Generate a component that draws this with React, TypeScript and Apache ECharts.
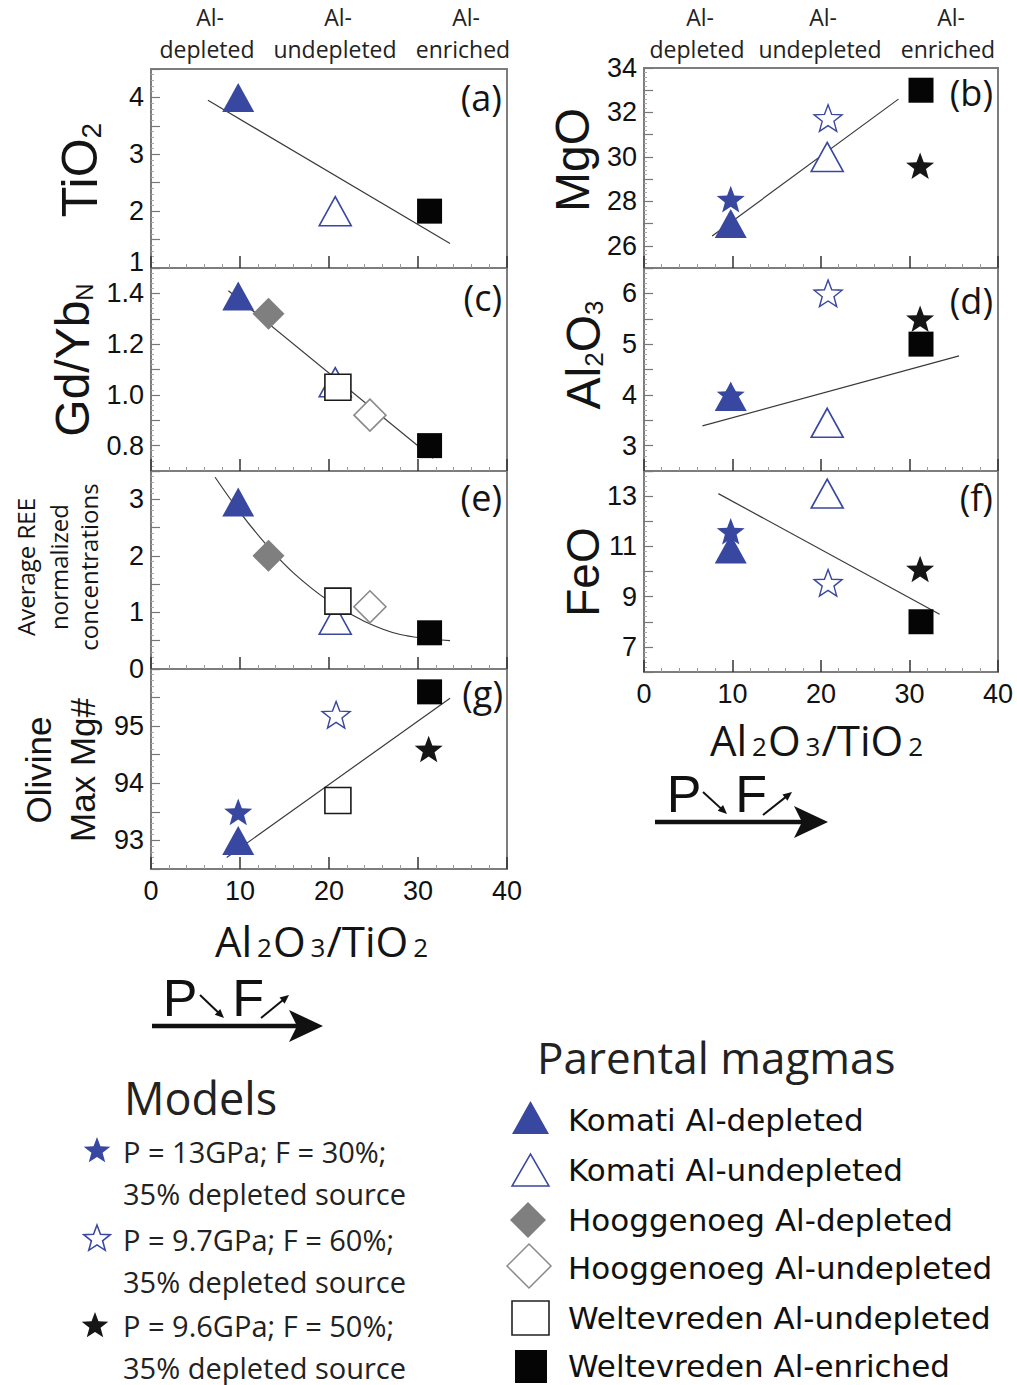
import React, { useEffect, useRef } from 'react';
import * as echarts from 'echarts';

// ---------------- data ----------------
const groupNames = [
  'Komati Al-depleted',
  'Komati Al-undepleted',
  'Hooggenoeg Al-depleted',
  'Hooggenoeg Al-undepleted',
  'Weltevreden Al-undepleted',
  'Weltevreden Al-enriched',
];
// Al2O3/TiO2 of each parental magma
const groupRatio = [9.8, 20.7, 13.2, 24.6, 21.0, 31.3];

const modelNames = ['P = 13GPa; F = 30%;', 'P = 9.7GPa; F = 60%;', 'P = 9.6GPa; F = 50%;'];
const modelSource = ['35% depleted source', '35% depleted source', '35% depleted source'];
const modelRatio = [9.8, 20.8, 31.2];

// (a) TiO2
const tio2Groups = [4.0, 2.0, null, null, null, 2.0];
const tio2Models = [null, null, null];
const tio2Fit = [[6.4, 3.95], [33.6, 1.43]];
// (b) MgO
const mgoGroups = [27.0, 30.0, null, null, null, 33.0];
const mgoModels = [28.1, 31.75, 29.6];
const mgoFit = [[7.7, 26.44], [28.75, 32.6]];
// (c) Gd/Yb N
const gdybGroups = [1.39, 1.05, 1.32, 0.92, 1.03, 0.8];
const gdybModels = [null, null, null];
const gdybFit = [[8.7, 1.41], [31.7, 0.75]];
// (d) Al2O3
const al2o3Groups = [3.97, 3.45, null, null, null, 5.0];
const al2o3Models = [4.0, 6.0, 5.5];
const al2o3Fit = [[6.6, 3.39], [35.6, 4.77]];
// (e) Average REE normalized concentrations
const reeGroups = [2.95, 0.87, 2.0, 1.1, 1.2, 0.64];
const reeModels = [null, null, null];
const reeFit = [[7.2, 3.39], [10, 2.77], [13, 2.19], [16, 1.7], [20, 1.2], [24, 0.84], [28, 0.61], [33.6, 0.5]];
// (f) FeO
const feoGroups = [10.9, 13.1, null, null, null, 8.0];
const feoModels = [11.6, 9.55, 10.1];
const feoFit = [[8.4, 13.1], [33.4, 8.3]];
// (g) Olivine max Mg#
const olivGroups = [93.0, null, null, null, 93.7, 95.6];
const olivModels = [93.5, 95.2, 94.6];
const olivFit = [[8.5, 92.7], [33.6, 95.49]];

const xTicks = [0, 40, 10];

// ---------------- styles ----------------
const BLUE = '#38479f';
const STAR_D =
  'M0,-10L2.47,-3.4L9.51,-3.09L3.99,1.3L5.88,8.09L0,4.2L-5.88,8.09L-3.99,1.3L-9.51,-3.09L-2.47,-3.4Z';
echarts.graphic.registerShape('legendStar', echarts.graphic.extendPath(STAR_D, {}));

const groupStyle: any[] = [
  { symbol: 'triangle', size: [32, 29], itemStyle: { color: BLUE, opacity: 1 } },
  { symbol: 'triangle', size: [32, 29], itemStyle: { color: '#fff', borderColor: BLUE, borderWidth: 1.6, opacity: 1 } },
  { symbol: 'diamond', size: [32, 32], itemStyle: { color: '#7f7f7f', opacity: 1 } },
  { symbol: 'diamond', size: [32, 32], itemStyle: { color: '#fff', borderColor: '#8a8a8a', borderWidth: 1.6, opacity: 1 } },
  { symbol: 'rect', size: [26, 26], itemStyle: { color: '#fff', borderColor: '#1a1a1a', borderWidth: 1.6, opacity: 1 } },
  { symbol: 'rect', size: [25, 25], itemStyle: { color: '#050505', opacity: 1 } },
];
const modelStyle: any[] = [
  { color: BLUE, opacity: 1 },
  { color: '#fff', borderColor: BLUE, borderWidth: 1.4, opacity: 1 },
  { color: '#161616', opacity: 1 },
];

const NUM_FONT = 'Liberation Sans';
const MY_FONT = 'Open Sans';
const TICK_FS = 27;

const isInt = (v: number) => Math.abs(v - Math.round(v)) < 1e-6;
const fmtA = (v: number) => (isInt(v) ? (Math.abs(v - 1) < 1e-6 ? '{lift|1}' : String(Math.round(v))) : '');
const fmtInt = (v: number) => (isInt(v) ? String(Math.round(v)) : '');
const fmtB = (v: number) => (Math.round(v) % 2 === 0 ? String(Math.round(v)) : '');
const fmtC = (v: number) => {
  const k = Math.round(v * 10);
  return k % 2 === 0 ? (k / 10).toFixed(1) : '';
};
const fmtF = (v: number) => (Math.round(v) % 2 === 1 ? String(Math.round(v)) : '');
const fmtG = (v: number) => (isInt(v) && v < 95.5 ? String(Math.round(v)) : '');

const LW = 356;
const RW = 354;
const panels: any[] = [
  { g: tio2Groups, m: tio2Models, fit: tio2Fit, smooth: false, y: [1, 4.5, 0.5], fmt: fmtA, grid: { left: 151, top: 69, width: LW, height: 199 }, xl: false },
  { g: mgoGroups, m: mgoModels, fit: mgoFit, smooth: false, y: [25, 34, 1], fmt: fmtB, grid: { left: 644, top: 68, width: RW, height: 200 }, xl: false },
  { g: gdybGroups, m: gdybModels, fit: gdybFit, smooth: false, y: [0.7, 1.5, 0.1], fmt: fmtC, grid: { left: 151, top: 268, width: LW, height: 203 }, xl: false },
  { g: al2o3Groups, m: al2o3Models, fit: al2o3Fit, smooth: false, y: [2.5, 6.5, 0.5], fmt: fmtInt, grid: { left: 644, top: 268, width: RW, height: 203 }, xl: false },
  { g: reeGroups, m: reeModels, fit: reeFit, smooth: 0.3, y: [0, 3.5, 0.5], fmt: fmtInt, grid: { left: 151, top: 471, width: LW, height: 198 }, xl: false },
  { g: feoGroups, m: feoModels, fit: feoFit, smooth: false, y: [6, 14, 1], fmt: fmtF, grid: { left: 644, top: 471, width: RW, height: 201 }, xl: true },
  { g: olivGroups, m: olivModels, fit: olivFit, smooth: false, y: [92.5, 96, 0.5], fmt: fmtG, grid: { left: 151, top: 669, width: LW, height: 200 }, xl: true },
];

function buildOption() {
  const grid: any[] = [];
  const xAxis: any[] = [];
  const yAxis: any[] = [];
  const series: any[] = [];
  panels.forEach((p, i) => {
    grid.push({ ...p.grid, show: true, borderColor: '#7d7d7d', borderWidth: 2, backgroundColor: 'transparent' });
    xAxis.push({
      gridIndex: i,
      type: 'value',
      min: xTicks[0],
      max: xTicks[1],
      interval: xTicks[2],
      axisLine: { show: false },
      axisTick: { show: true, inside: true, length: 12, lineStyle: { color: '#333', width: 1.5 } },
      minorTick: { show: true, splitNumber: 5, length: 4, lineStyle: { color: '#999', width: 1 } },
      splitLine: { show: false },
      axisLabel: { show: p.xl, fontSize: 27, fontFamily: NUM_FONT, color: '#111', margin: 8 },
    });
    yAxis.push({
      gridIndex: i,
      type: 'value',
      min: p.y[0],
      max: p.y[1],
      interval: p.y[2],
      axisLine: { show: false },
      axisTick: { show: true, inside: true, length: 9, lineStyle: { color: '#777', width: 1.2 } },
      minorTick: { show: true, splitNumber: 5, length: 3, lineStyle: { color: '#aaa', width: 1 } },
      splitLine: { show: false },
      axisLabel: {
        fontSize: TICK_FS,
        fontFamily: NUM_FONT,
        color: '#111',
        margin: 7,
        formatter: p.fmt,
        showMinLabel: true,
        showMaxLabel: true,
        rich: { lift: { fontSize: TICK_FS, fontFamily: NUM_FONT, color: '#111', padding: [0, 0, 12, 0] } },
      },
    });
    series.push({
      type: 'line',
      name: 'fit',
      xAxisIndex: i,
      yAxisIndex: i,
      data: p.fit,
      smooth: p.smooth,
      showSymbol: false,
      symbol: 'none',
      silent: true,
      lineStyle: { color: '#3a3a3a', width: 1.2 },
      z: 1,
    });
    p.m.forEach((v: number | null, k: number) => {
      if (v == null) return;
      series.push({
        type: 'scatter',
        name: modelNames[k],
        xAxisIndex: i,
        yAxisIndex: i,
        data: [[modelRatio[k], v]],
        symbol: 'path://' + STAR_D,
        symbolKeepAspect: true,
        symbolSize: 28,
        itemStyle: modelStyle[k],
        z: 2,
      });
    });
    p.g.forEach((v: number | null, k: number) => {
      if (v == null) return;
      series.push({
        type: 'scatter',
        name: groupNames[k],
        xAxisIndex: i,
        yAxisIndex: i,
        data: [[groupRatio[k], v]],
        symbol: groupStyle[k].symbol,
        symbolSize: groupStyle[k].size,
        itemStyle: groupStyle[k].itemStyle,
        z: 3,
      });
    });
  });

  const g: any[] = [];
  const text = (x: number, y: number, t: string, fontSize: number, family: string, extra: any = {}, el: any = {}) => ({
    type: 'text',
    x,
    y,
    ...el,
    style: { text: t, fontSize, fontFamily: family, fill: '#141414', align: 'center', verticalAlign: 'middle', ...extra },
  });
  const sub = (size: number, family: string) => ({ fontSize: size, fontFamily: family, fill: '#141414', verticalAlign: 'bottom' });
  const main = (size: number, family: string) => ({ fontSize: size, fontFamily: family, fill: '#141414' });
  const ROT = { rotation: Math.PI / 2 };

  // header labels (two separate lines each)
  [
    [207, 'Al-', 'depleted'],
    [335, 'Al-', 'undepleted'],
    [463, 'Al-', 'enriched'],
    [697, 'Al-', 'depleted'],
    [820, 'Al-', 'undepleted'],
    [948, 'Al-', 'enriched'],
  ].forEach(([x, a, b]) => {
    g.push(text((x as number) + 3, 17, a as string, 23, MY_FONT, { fill: '#222' }));
    g.push(text(x as number, 49, b as string, 23, MY_FONT, { fill: '#222' }));
  });

  // panel letters
  [
    [502, 97, '(a)'],
    [993, 92, '(b)'],
    [502, 297, '(c)'],
    [993, 300, '(d)'],
    [502, 497, '(e)'],
    [993, 497, '(f)'],
    [503, 693, '(g)'],
  ].forEach(([x, y, t]) => g.push(text(x as number, y as number, t as string, 36, MY_FONT, { align: 'right' })));

  // y titles
  g.push(text(80, 170, '{m|TiO}{s|2}', 50, NUM_FONT, { rich: { m: main(50, NUM_FONT), s: sub(28, NUM_FONT) } }, ROT));
  g.push(text(72, 360, '{m|Gd/Yb}{s|N}', 48, NUM_FONT, { rich: { m: main(48, NUM_FONT), s: sub(24, NUM_FONT) } }, ROT));
  g.push(text(25, 567, 'Average REE', 24, MY_FONT, {}, ROT));
  g.push(text(58, 567, 'normalized', 24, MY_FONT, {}, ROT));
  g.push(text(88, 567, 'concentrations', 24, MY_FONT, {}, ROT));
  g.push(text(38, 770, 'Olivine', 35, NUM_FONT, {}, ROT));
  g.push(text(82, 770, 'Max Mg#', 35, NUM_FONT, {}, ROT));
  g.push(text(572, 160, 'MgO', 48, NUM_FONT, {}, ROT));
  g.push(text(583, 355, '{m|Al}{s|2}{m|O}{s|3}', 48, NUM_FONT, { rich: { m: main(48, NUM_FONT), s: sub(26, NUM_FONT) } }, ROT));
  g.push(text(583, 572, 'FeO', 46, NUM_FONT, {}, ROT));

  // x titles
  const xTitleRich = {
    m: { ...main(42, MY_FONT), lineHeight: 40 },
    s: { ...sub(26, MY_FONT), lineHeight: 8, padding: [0, 1, 0, 5] },
  };
  g.push(text(322, 940, '{m|Al}{s|2}{m|O}{s|3}{m|/TiO}{s|2}', 42, MY_FONT, { rich: xTitleRich }));
  g.push(text(817, 739, '{m|Al}{s|2}{m|O}{s|3}{m|/TiO}{s|2}', 42, MY_FONT, { rich: xTitleRich }));

  // P / F arrows
  const headPts = (x1: number, y1: number, x2: number, y2: number, len: number, hw: number) => {
    const dx = x2 - x1;
    const dy = y2 - y1;
    const L = Math.hypot(dx, dy);
    const ux = dx / L;
    const uy = dy / L;
    const bx = x2 - ux * len;
    const by = y2 - uy * len;
    return [
      [x2, y2],
      [bx - uy * hw, by + ux * hw],
      [bx + uy * hw, by - ux * hw],
    ];
  };
  const smallArrow = (x1: number, y1: number, x2: number, y2: number) => {
    const dx = x2 - x1;
    const dy = y2 - y1;
    const L = Math.hypot(dx, dy);
    g.push({ type: 'line', shape: { x1, y1, x2: x2 - (dx / L) * 5, y2: y2 - (dy / L) * 5 }, style: { stroke: '#111', lineWidth: 2 } });
    g.push({ type: 'polygon', shape: { points: headPts(x1, y1, x2, y2, 9, 4) }, style: { fill: '#111' } });
  };
  const bigArrow = (x0: number, x1: number, y: number, px: number, fx: number) => {
    g.push({ type: 'line', shape: { x1: x0, y1: y, x2: x1 - 25, y2: y }, style: { stroke: '#111', lineWidth: 4.5 } });
    g.push({
      type: 'polygon',
      shape: { points: [[x1, y], [x1 - 34, y - 16], [x1 - 26, y], [x1 - 34, y + 16]] },
      style: { fill: '#111' },
    });
    g.push(text(px, y - 2, 'P', 52, NUM_FONT, { fill: '#111', verticalAlign: 'bottom' }));
    g.push(text(fx, y - 2, 'F', 52, NUM_FONT, { fill: '#111', verticalAlign: 'bottom' }));
  };
  bigArrow(152, 323, 1026, 180, 248);
  smallArrow(200, 995, 224, 1018);
  smallArrow(261, 1018, 289, 995);
  bigArrow(655, 828, 822, 684, 751);
  smallArrow(703, 792, 727, 814);
  smallArrow(763, 815, 792, 792);

  // Models legend
  g.push(text(124, 1097, 'Models', 45, MY_FONT, { align: 'left', fill: '#222' }));
  const starStyles = [
    { fill: BLUE },
    { fill: '#fff', stroke: BLUE, lineWidth: 1.1 },
    { fill: '#161616' },
  ];
  const starPos = [[97, 1151], [97, 1239], [95, 1326]];
  const modelY = [1151, 1239, 1325];
  modelNames.forEach((nm, k) => {
    g.push({ type: 'legendStar', x: starPos[k][0], y: starPos[k][1], scaleX: 1.4, scaleY: 1.4, style: starStyles[k] });
    g.push(text(123, modelY[k], nm, 29, MY_FONT, { align: 'left', fill: '#222' }));
    g.push(text(123, modelY[k] + 42, modelSource[k], 29, MY_FONT, { align: 'left', fill: '#222' }));
  });

  // Parental magmas legend
  g.push(text(537, 1057, 'Parental magmas', 44, MY_FONT, { align: 'left', fill: '#222' }));
  const itemY = [1120, 1170, 1220, 1268, 1318, 1366];
  groupNames.forEach((nm, k) => {
    g.push(text(568, itemY[k], nm, 31, 'DejaVu Sans', { align: 'left', fill: '#111' }));
  });
  g.push({ type: 'polygon', shape: { points: [[512, 1134], [549, 1134], [530.5, 1101]] }, style: { fill: BLUE } });
  g.push({ type: 'polygon', shape: { points: [[512, 1186], [549, 1186], [530.5, 1154]] }, style: { fill: '#fff', stroke: BLUE, lineWidth: 1.5 } });
  g.push({ type: 'polygon', shape: { points: [[528, 1202], [546, 1220], [528, 1238], [510, 1220]] }, style: { fill: '#7f7f7f' } });
  g.push({ type: 'polygon', shape: { points: [[529, 1244], [551, 1266], [529, 1288], [507, 1266]] }, style: { fill: '#fff', stroke: '#8a8a8a', lineWidth: 1.5 } });
  g.push({ type: 'rect', shape: { x: 512, y: 1301, width: 37, height: 34 }, style: { fill: '#fff', stroke: '#222', lineWidth: 1.6 } });
  g.push({ type: 'rect', shape: { x: 515, y: 1350, width: 32, height: 33 }, style: { fill: '#050505' } });

  return {
    animation: false,
    backgroundColor: '#ffffff',
    grid,
    xAxis,
    yAxis,
    series,
    graphic: { elements: g },
  };
}

export default function App() {
  const ref = useRef<HTMLDivElement>(null);
  useEffect(() => {
    if (!ref.current) return;
    const chart = echarts.init(ref.current, null, { renderer: 'svg' });
    chart.setOption(buildOption());
    return () => chart.dispose();
  }, []);
  return <div ref={ref} style={{ position: 'absolute', left: 0, top: 0, width: 1017, height: 1385 }} />;
}
